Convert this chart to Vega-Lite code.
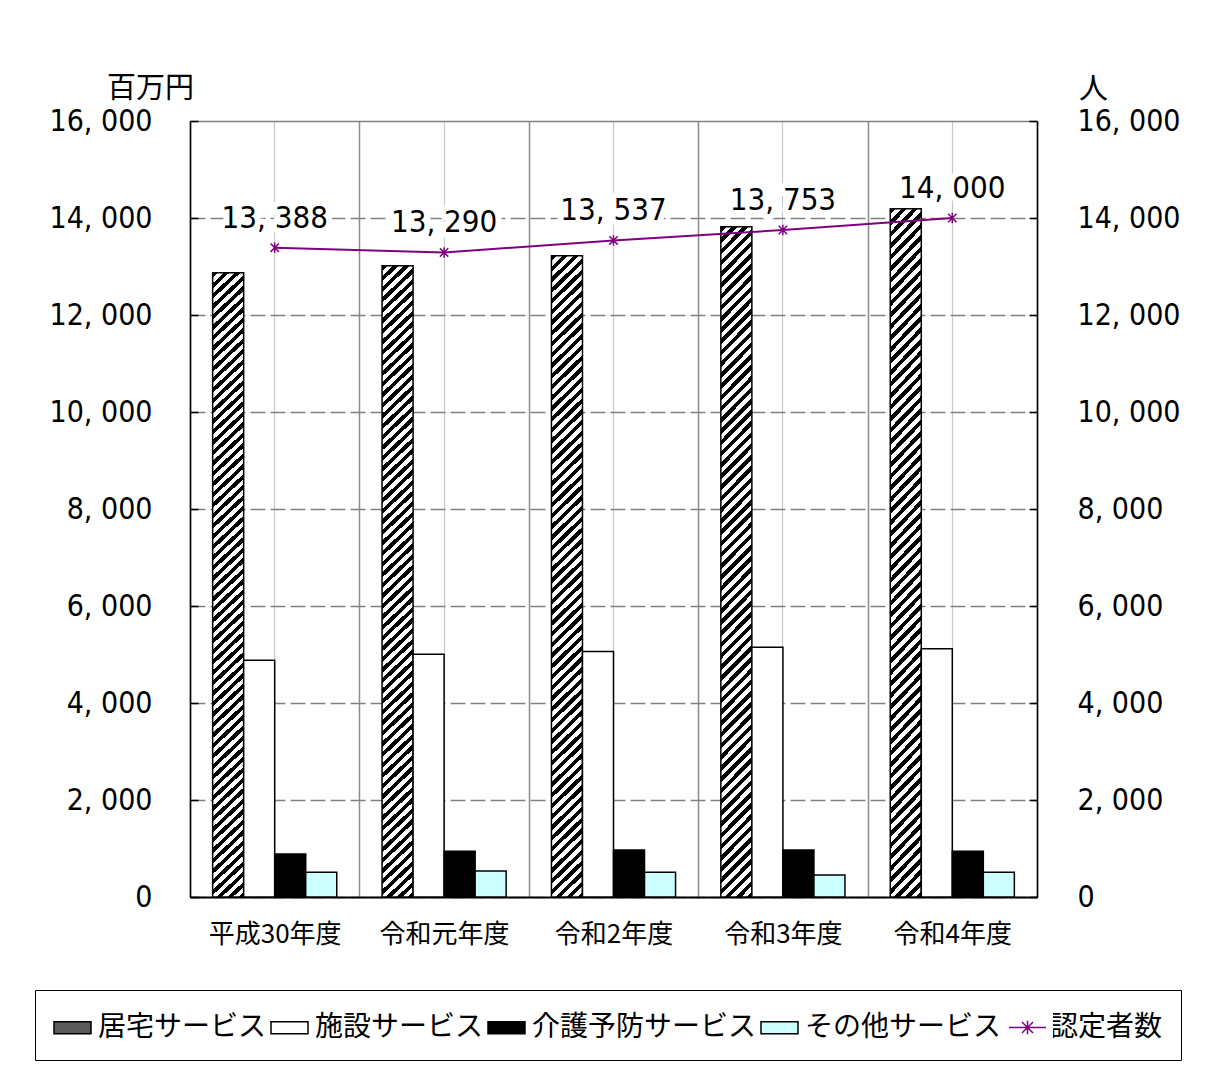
{
 "$schema": "https://vega.github.io/schema/vega-lite/v6.json",
 "width": 847,
 "height": 776,
 "autosize": {"type": "none"},
 "padding": {"left": 190, "top": 121, "right": 169, "bottom": 186},
 "background": "white",
 "datasets": {
  "cost": [
   {"year": "平成30年度", "series": "居宅サービス", "value": 12870},
   {"year": "平成30年度", "series": "施設サービス", "value": 4880},
   {"year": "平成30年度", "series": "介護予防サービス", "value": 885},
   {"year": "平成30年度", "series": "その他サービス", "value": 508},
   {"year": "令和元年度", "series": "居宅サービス", "value": 13015},
   {"year": "令和元年度", "series": "施設サービス", "value": 5004},
   {"year": "令和元年度", "series": "介護予防サービス", "value": 941},
   {"year": "令和元年度", "series": "その他サービス", "value": 535},
   {"year": "令和2年度", "series": "居宅サービス", "value": 13220},
   {"year": "令和2年度", "series": "施設サービス", "value": 5060},
   {"year": "令和2年度", "series": "介護予防サービス", "value": 968},
   {"year": "令和2年度", "series": "その他サービス", "value": 508},
   {"year": "令和3年度", "series": "居宅サービス", "value": 13818},
   {"year": "令和3年度", "series": "施設サービス", "value": 5148},
   {"year": "令和3年度", "series": "介護予防サービス", "value": 968},
   {"year": "令和3年度", "series": "その他サービス", "value": 453},
   {"year": "令和4年度", "series": "居宅サービス", "value": 14189},
   {"year": "令和4年度", "series": "施設サービス", "value": 5121},
   {"year": "令和4年度", "series": "介護予防サービス", "value": 941},
   {"year": "令和4年度", "series": "その他サービス", "value": 508}
  ],
  "people": [
   {"year": "平成30年度", "series": "認定者数", "count": 13388},
   {"year": "令和元年度", "series": "認定者数", "count": 13290},
   {"year": "令和2年度", "series": "認定者数", "count": 13537},
   {"year": "令和3年度", "series": "認定者数", "count": 13753},
   {"year": "令和4年度", "series": "認定者数", "count": 14000}
  ]
 },
 "layer": [
  {
   "data": {"name": "cost"},
   "mark": {"type": "bar", "stroke": "black", "strokeWidth": 1.5},
   "encoding": {
    "x": {
     "field": "year", "type": "nominal",
     "scale": {"domain": ["平成30年度", "令和元年度", "令和2年度", "令和3年度", "令和4年度"], "paddingInner": 0, "paddingOuter": 0},
     "axis": {
      "title": null, "labelAngle": 0, "labelFont": "Noto Sans CJK JP", "labelFontSize": 26, "labelColor": "black",
      "ticks": false, "labelPadding": 24, "domainColor": "black", "domainWidth": 2,
      "grid": true, "gridColor": "#8c8c8c", "gridWidth": 1.5, "tickBand": "extent"
     }
    },
    "xOffset": {
     "field": "series", "type": "nominal",
     "scale": {"domain": ["居宅サービス", "施設サービス", "介護予防サービス", "その他サービス"], "paddingInner": 0, "paddingOuter": 0.73}
    },
    "y": {
     "field": "value", "type": "quantitative",
     "scale": {"domain": [0, 16000], "nice": false},
     "axis": {
      "values": [0, 2000, 4000, 6000, 8000, 10000, 12000, 14000, 16000],
      "title": "百万円", "titleAngle": 0, "titleX": -40, "titleY": -33, "titleAlign": "center", "titleBaseline": "middle",
      "titleFont": "Noto Sans CJK JP", "titleFontSize": 29, "titleFontWeight": "normal", "titleColor": "black",
      "labelFont": "'DejaVu Sans Condensed', sans-serif", "labelFontSize": 30, "labelColor": "black",
      "labelPadding": 46, "tickSize": -8, "tickColor": "black", "tickWidth": 1.5,
      "domainColor": "black", "domainWidth": 1.5,
      "grid": true, "gridColor": "#808080", "gridWidth": 1.3,
      "gridDash": {"condition": {"test": "datum.value === 16000", "value": []}, "value": [15, 5]}
     }
    },
    "color": {
     "field": "series", "type": "nominal",
     "scale": {
      "domain": ["居宅サービス", "施設サービス", "介護予防サービス", "その他サービス", "認定者数"],
      "range": ["#5a5a5a", "#ffffff", "#000000", "#ccffff", "#ffffff"]
     },
     "condition": {
      "test": "datum.series === '居宅サービス'",
      "value": {"gradient": "linear", "x1": 0, "y1": 0, "x2": 0.049, "y2": 1.045, "stops": [
{"offset":0,"color":"#000"},{"offset":0.008,"color":"#000"},{"offset":0.008,"color":"#fff"},{"offset":0.016,"color":"#fff"},{"offset":0.016,"color":"#000"},{"offset":0.024,"color":"#000"},{"offset":0.024,"color":"#fff"},{"offset":0.032,"color":"#fff"},{"offset":0.032,"color":"#000"},{"offset":0.04,"color":"#000"},{"offset":0.04,"color":"#fff"},{"offset":0.048,"color":"#fff"},{"offset":0.048,"color":"#000"},{"offset":0.056,"color":"#000"},{"offset":0.056,"color":"#fff"},{"offset":0.064,"color":"#fff"},{"offset":0.064,"color":"#000"},{"offset":0.072,"color":"#000"},{"offset":0.072,"color":"#fff"},{"offset":0.08,"color":"#fff"},{"offset":0.08,"color":"#000"},{"offset":0.088,"color":"#000"},{"offset":0.088,"color":"#fff"},{"offset":0.096,"color":"#fff"},{"offset":0.096,"color":"#000"},{"offset":0.104,"color":"#000"},{"offset":0.104,"color":"#fff"},{"offset":0.112,"color":"#fff"},{"offset":0.112,"color":"#000"},{"offset":0.12,"color":"#000"},{"offset":0.12,"color":"#fff"},{"offset":0.128,"color":"#fff"},{"offset":0.128,"color":"#000"},{"offset":0.136,"color":"#000"},{"offset":0.136,"color":"#fff"},{"offset":0.144,"color":"#fff"},{"offset":0.144,"color":"#000"},{"offset":0.152,"color":"#000"},{"offset":0.152,"color":"#fff"},{"offset":0.16,"color":"#fff"},{"offset":0.16,"color":"#000"},{"offset":0.168,"color":"#000"},{"offset":0.168,"color":"#fff"},{"offset":0.176,"color":"#fff"},{"offset":0.176,"color":"#000"},{"offset":0.184,"color":"#000"},{"offset":0.184,"color":"#fff"},{"offset":0.192,"color":"#fff"},{"offset":0.192,"color":"#000"},{"offset":0.2,"color":"#000"},{"offset":0.2,"color":"#fff"},{"offset":0.208,"color":"#fff"},{"offset":0.208,"color":"#000"},{"offset":0.216,"color":"#000"},{"offset":0.216,"color":"#fff"},{"offset":0.224,"color":"#fff"},{"offset":0.224,"color":"#000"},{"offset":0.232,"color":"#000"},{"offset":0.232,"color":"#fff"},{"offset":0.24,"color":"#fff"},{"offset":0.24,"color":"#000"},{"offset":0.248,"color":"#000"},{"offset":0.248,"color":"#fff"},{"offset":0.256,"color":"#fff"},{"offset":0.256,"color":"#000"},{"offset":0.264,"color":"#000"},{"offset":0.264,"color":"#fff"},{"offset":0.272,"color":"#fff"},{"offset":0.272,"color":"#000"},{"offset":0.28,"color":"#000"},{"offset":0.28,"color":"#fff"},{"offset":0.288,"color":"#fff"},{"offset":0.288,"color":"#000"},{"offset":0.296,"color":"#000"},{"offset":0.296,"color":"#fff"},{"offset":0.304,"color":"#fff"},{"offset":0.304,"color":"#000"},{"offset":0.312,"color":"#000"},{"offset":0.312,"color":"#fff"},{"offset":0.32,"color":"#fff"},{"offset":0.32,"color":"#000"},{"offset":0.328,"color":"#000"},{"offset":0.328,"color":"#fff"},{"offset":0.336,"color":"#fff"},{"offset":0.336,"color":"#000"},{"offset":0.344,"color":"#000"},{"offset":0.344,"color":"#fff"},{"offset":0.352,"color":"#fff"},{"offset":0.352,"color":"#000"},{"offset":0.36,"color":"#000"},{"offset":0.36,"color":"#fff"},{"offset":0.368,"color":"#fff"},{"offset":0.368,"color":"#000"},{"offset":0.376,"color":"#000"},{"offset":0.376,"color":"#fff"},{"offset":0.384,"color":"#fff"},{"offset":0.384,"color":"#000"},{"offset":0.392,"color":"#000"},{"offset":0.392,"color":"#fff"},{"offset":0.4,"color":"#fff"},{"offset":0.4,"color":"#000"},{"offset":0.408,"color":"#000"},{"offset":0.408,"color":"#fff"},{"offset":0.416,"color":"#fff"},{"offset":0.416,"color":"#000"},{"offset":0.424,"color":"#000"},{"offset":0.424,"color":"#fff"},{"offset":0.432,"color":"#fff"},{"offset":0.432,"color":"#000"},{"offset":0.44,"color":"#000"},{"offset":0.44,"color":"#fff"},{"offset":0.448,"color":"#fff"},{"offset":0.448,"color":"#000"},{"offset":0.456,"color":"#000"},{"offset":0.456,"color":"#fff"},{"offset":0.464,"color":"#fff"},{"offset":0.464,"color":"#000"},{"offset":0.472,"color":"#000"},{"offset":0.472,"color":"#fff"},{"offset":0.48,"color":"#fff"},{"offset":0.48,"color":"#000"},{"offset":0.488,"color":"#000"},{"offset":0.488,"color":"#fff"},{"offset":0.496,"color":"#fff"},{"offset":0.496,"color":"#000"},{"offset":0.504,"color":"#000"},{"offset":0.504,"color":"#fff"},{"offset":0.512,"color":"#fff"},{"offset":0.512,"color":"#000"},{"offset":0.52,"color":"#000"},{"offset":0.52,"color":"#fff"},{"offset":0.528,"color":"#fff"},{"offset":0.528,"color":"#000"},{"offset":0.536,"color":"#000"},{"offset":0.536,"color":"#fff"},{"offset":0.544,"color":"#fff"},{"offset":0.544,"color":"#000"},{"offset":0.552,"color":"#000"},{"offset":0.552,"color":"#fff"},{"offset":0.56,"color":"#fff"},{"offset":0.56,"color":"#000"},{"offset":0.568,"color":"#000"},{"offset":0.568,"color":"#fff"},{"offset":0.576,"color":"#fff"},{"offset":0.576,"color":"#000"},{"offset":0.584,"color":"#000"},{"offset":0.584,"color":"#fff"},{"offset":0.592,"color":"#fff"},{"offset":0.592,"color":"#000"},{"offset":0.6,"color":"#000"},{"offset":0.6,"color":"#fff"},{"offset":0.608,"color":"#fff"},{"offset":0.608,"color":"#000"},{"offset":0.616,"color":"#000"},{"offset":0.616,"color":"#fff"},{"offset":0.624,"color":"#fff"},{"offset":0.624,"color":"#000"},{"offset":0.632,"color":"#000"},{"offset":0.632,"color":"#fff"},{"offset":0.64,"color":"#fff"},{"offset":0.64,"color":"#000"},{"offset":0.648,"color":"#000"},{"offset":0.648,"color":"#fff"},{"offset":0.656,"color":"#fff"},{"offset":0.656,"color":"#000"},{"offset":0.664,"color":"#000"},{"offset":0.664,"color":"#fff"},{"offset":0.672,"color":"#fff"},{"offset":0.672,"color":"#000"},{"offset":0.68,"color":"#000"},{"offset":0.68,"color":"#fff"},{"offset":0.688,"color":"#fff"},{"offset":0.688,"color":"#000"},{"offset":0.696,"color":"#000"},{"offset":0.696,"color":"#fff"},{"offset":0.704,"color":"#fff"},{"offset":0.704,"color":"#000"},{"offset":0.712,"color":"#000"},{"offset":0.712,"color":"#fff"},{"offset":0.72,"color":"#fff"},{"offset":0.72,"color":"#000"},{"offset":0.728,"color":"#000"},{"offset":0.728,"color":"#fff"},{"offset":0.736,"color":"#fff"},{"offset":0.736,"color":"#000"},{"offset":0.744,"color":"#000"},{"offset":0.744,"color":"#fff"},{"offset":0.752,"color":"#fff"},{"offset":0.752,"color":"#000"},{"offset":0.76,"color":"#000"},{"offset":0.76,"color":"#fff"},{"offset":0.768,"color":"#fff"},{"offset":0.768,"color":"#000"},{"offset":0.776,"color":"#000"},{"offset":0.776,"color":"#fff"},{"offset":0.784,"color":"#fff"},{"offset":0.784,"color":"#000"},{"offset":0.792,"color":"#000"},{"offset":0.792,"color":"#fff"},{"offset":0.8,"color":"#fff"},{"offset":0.8,"color":"#000"},{"offset":0.808,"color":"#000"},{"offset":0.808,"color":"#fff"},{"offset":0.816,"color":"#fff"},{"offset":0.816,"color":"#000"},{"offset":0.824,"color":"#000"},{"offset":0.824,"color":"#fff"},{"offset":0.832,"color":"#fff"},{"offset":0.832,"color":"#000"},{"offset":0.84,"color":"#000"},{"offset":0.84,"color":"#fff"},{"offset":0.848,"color":"#fff"},{"offset":0.848,"color":"#000"},{"offset":0.856,"color":"#000"},{"offset":0.856,"color":"#fff"},{"offset":0.864,"color":"#fff"},{"offset":0.864,"color":"#000"},{"offset":0.872,"color":"#000"},{"offset":0.872,"color":"#fff"},{"offset":0.88,"color":"#fff"},{"offset":0.88,"color":"#000"},{"offset":0.888,"color":"#000"},{"offset":0.888,"color":"#fff"},{"offset":0.896,"color":"#fff"},{"offset":0.896,"color":"#000"},{"offset":0.904,"color":"#000"},{"offset":0.904,"color":"#fff"},{"offset":0.912,"color":"#fff"},{"offset":0.912,"color":"#000"},{"offset":0.92,"color":"#000"},{"offset":0.92,"color":"#fff"},{"offset":0.928,"color":"#fff"},{"offset":0.928,"color":"#000"},{"offset":0.936,"color":"#000"},{"offset":0.936,"color":"#fff"},{"offset":0.944,"color":"#fff"},{"offset":0.944,"color":"#000"},{"offset":0.952,"color":"#000"},{"offset":0.952,"color":"#fff"},{"offset":0.96,"color":"#fff"},{"offset":0.96,"color":"#000"},{"offset":0.968,"color":"#000"},{"offset":0.968,"color":"#fff"},{"offset":0.976,"color":"#fff"},{"offset":0.976,"color":"#000"},{"offset":0.984,"color":"#000"},{"offset":0.984,"color":"#fff"},{"offset":0.992,"color":"#fff"},{"offset":0.992,"color":"#000"},{"offset":1,"color":"#000"}
      ]}
     },
     "legend": {
      "orient": "none", "legendX": -155, "legendY": 869, "direction": "horizontal", "columns": 5, "title": null,
      "padding": 18, "strokeColor": "black", "fillColor": "white", "columnPadding": 1,
      "symbolSize": 1369, "symbolType": "M-1,-0.32H1V0.32H-1Z", "symbolStrokeColor": "black", "symbolStrokeWidth": 1.5,
      "labelFont": "Noto Sans CJK JP", "labelFontSize": 28, "labelOffset": 6, "labelLimit": 400, "labelColor": "black"
     }
    }
   }
  },
  {
   "data": {"name": "people"},
   "encoding": {
    "x": {
     "field": "year", "type": "nominal",
     "scale": {"domain": ["平成30年度", "令和元年度", "令和2年度", "令和3年度", "令和4年度"]},
     "axis": {"orient": "top", "title": null, "labels": false, "ticks": false, "domain": false, "grid": true, "gridColor": "#c8c8c8", "gridWidth": 1.2}
    },
    "y": {
     "field": "count", "type": "quantitative",
     "scale": {"domain": [0, 16000], "nice": false},
     "axis": {
      "orient": "right",
      "values": [0, 2000, 4000, 6000, 8000, 10000, 12000, 14000, 16000],
      "title": "人", "titleAngle": 0, "titleX": 56, "titleY": -32, "titleAlign": "center", "titleBaseline": "middle",
      "titleFont": "Noto Sans CJK JP", "titleFontSize": 29, "titleFontWeight": "normal", "titleColor": "black",
      "labelFont": "'DejaVu Sans Condensed', sans-serif", "labelFontSize": 30, "labelColor": "black",
      "labelPadding": 48, "tickSize": -8, "tickColor": "black", "tickWidth": 1.5,
      "domainColor": "black", "domainWidth": 1.5, "grid": false
     }
    },
    "stroke": {
     "field": "series", "type": "nominal",
     "scale": {"domain": ["認定者数"], "range": ["#800080"]},
     "legend": {
      "orient": "none", "legendX": 814, "legendY": 883, "title": null,
      "padding": 4, "fillColor": "white", "strokeColor": null,
      "symbolSize": 1369, "symbolType": "M-1,0H1M-0.3,-0.3L0.3,0.3M-0.3,0.3L0.3,-0.3M0,-0.36V0.36",
      "symbolStrokeWidth": 1.5, "symbolFillColor": "transparent",
      "labelExpr": "''", "labelOffset": 0, "labelFontSize": 1
     }
    }
   },
   "layer": [
    {"mark": {"type": "line", "strokeWidth": 2}},
    {"mark": {"type": "point", "shape": "M-0.8,-0.8L0.8,0.8M-0.8,0.8L0.8,-0.8M0,-1V1", "filled": false, "size": 110, "strokeWidth": 1.5, "opacity": 1}},
    {
     "mark": {"type": "text", "dy": -29, "baseline": "middle", "align": "center", "font": "'DejaVu Sans Condensed', sans-serif", "fontSize": 31, "stroke": "white", "strokeWidth": 12, "strokeJoin": "round", "fill": "white"},
     "encoding": {"text": {"field": "count", "type": "quantitative", "format": ","}, "stroke": {"value": "white"}}
    },
    {
     "mark": {"type": "text", "dy": -29, "baseline": "middle", "align": "center", "font": "'DejaVu Sans Condensed', sans-serif", "fontSize": 31, "fill": "black"},
     "encoding": {"text": {"field": "count", "type": "quantitative", "format": ","}, "stroke": {"value": null}}
    }
   ]
  }
 ],
 "resolve": {"scale": {"y": "independent"}, "axis": {"x": "independent", "y": "independent"}},
 "config": {
  "view": {"stroke": null},
  "font": "Noto Sans CJK JP",
  "locale": {"number": {"decimal": ".", "thousands": ", ", "grouping": [3], "currency": ["", ""]}}
 }
}
